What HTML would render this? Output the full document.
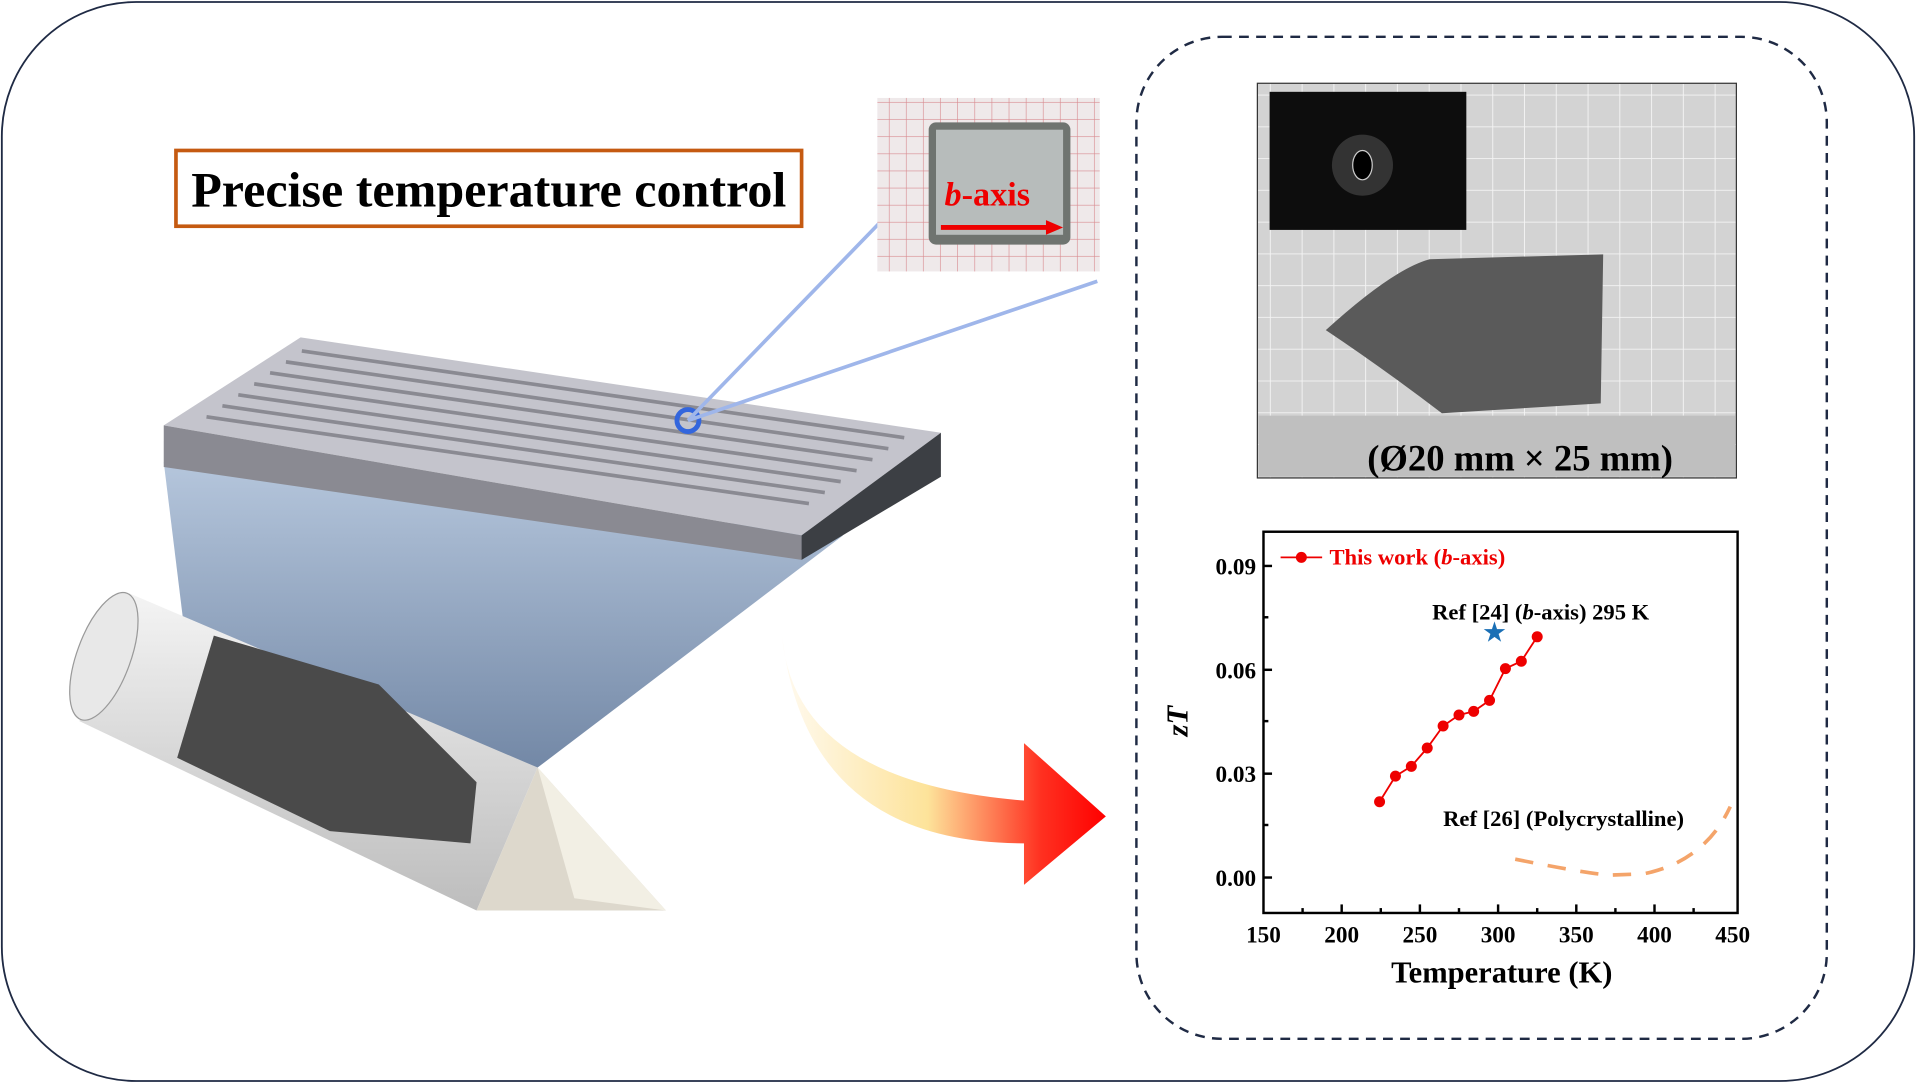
<!DOCTYPE html>
<html><head><meta charset="utf-8"><style>
html,body{margin:0;padding:0;background:#fff;width:1916px;height:1083px;overflow:hidden}
svg{display:block}
text{font-family:"Liberation Serif",serif;font-weight:bold}
</style></head><body>
<svg width="1916" height="1083" viewBox="0 0 1568 886" xmlns="http://www.w3.org/2000/svg">
<defs>
<linearGradient id="beam" x1="0" y1="0" x2="0" y2="1"><stop offset="0" stop-color="#b5c6dc"/><stop offset="1" stop-color="#7388a6"/></linearGradient>
<linearGradient id="arr" x1="0" y1="0" x2="1" y2="0"><stop offset="0" stop-color="#fffaf0"/><stop offset="0.45" stop-color="#fde39a"/><stop offset="0.8" stop-color="#ff3020"/><stop offset="1" stop-color="#ff0000"/></linearGradient>
<linearGradient id="cyl" x1="0" y1="0" x2="0" y2="1"><stop offset="0" stop-color="#f4f4f4"/><stop offset="0.5" stop-color="#d8d8d8"/><stop offset="1" stop-color="#bdbdbd"/></linearGradient>
<pattern id="grid" width="14" height="14" patternUnits="userSpaceOnUse"><rect width="14" height="14" fill="#efe9ea"/><path d="M14 0V14M0 14H14" stroke="#d88a8f" stroke-width="1"/></pattern>
<pattern id="grid2" width="26" height="26" patternUnits="userSpaceOnUse"><rect width="26" height="26" fill="#d3d3d3"/><path d="M26 0V26M0 26H26" stroke="#f4f4f4" stroke-width="1.5"/></pattern>
</defs>
<rect x="1.5" y="1.5" width="1565" height="883" rx="110" fill="#fff" stroke="#1f2a44" stroke-width="1.5"/>
<rect x="930" y="30" width="565" height="820" rx="70" fill="none" stroke="#1f2a44" stroke-width="2" stroke-dasharray="8,6"/>
<rect x="144" y="123" width="512" height="62" fill="#fff" stroke="#c55a11" stroke-width="3"/>
<text x="400" y="169" font-size="41" text-anchor="middle" fill="#000">Precise temperature control</text>
<!-- beam -->
<polygon points="134,378 690,438 440,628 160,590" fill="url(#beam)"/>
<!-- cylinder -->
<polygon points="105,485 440,628 390,745 65,590" fill="url(#cyl)"/>
<ellipse cx="85" cy="537" rx="22" ry="55" transform="rotate(20 85 537)" fill="#e8e8e8" stroke="#999"/>
<polygon points="175,520 310,560 390,640 385,690 270,680 145,620" fill="#4a4a4a"/>
<polygon points="440,628 545,745 390,745" fill="#ddd8cc"/>
<polygon points="440,628 545,745 470,735" fill="#f2efe4"/>
<!-- block -->
<polygon points="134,348 246,276 770,354 656,438" fill="#c4c4cc"/>
<polygon points="134,348 656,438 656,458 134,382" fill="#8a8a92"/>
<polygon points="656,438 770,354 770,390 656,458" fill="#3c3f44"/>
<g stroke="#8a8a92" stroke-width="3" fill="none">
<line x1="247" y1="287" x2="740" y2="358"/><line x1="234" y1="296" x2="727" y2="367"/><line x1="221" y1="305" x2="714" y2="376"/><line x1="208" y1="314" x2="701" y2="385"/><line x1="195" y1="323" x2="688" y2="394"/><line x1="182" y1="332" x2="675" y2="403"/><line x1="169" y1="341" x2="662" y2="412"/>
</g>
<circle cx="563" cy="344" r="9" fill="none" stroke="#3366dd" stroke-width="4"/>
<line x1="563" y1="344" x2="722" y2="180" stroke="#9fb6ea" stroke-width="3"/>
<line x1="563" y1="344" x2="898" y2="230" stroke="#9fb6ea" stroke-width="3"/>
<!-- sample photo -->
<rect x="718" y="80" width="182" height="142" fill="url(#grid)"/>
<rect x="760" y="100" width="116" height="100" rx="6" fill="#6f7470"/>
<rect x="766" y="106" width="104" height="86" fill="#b7bcbb"/>
<text x="773" y="168" font-size="28" fill="#e00" font-style="italic">b<tspan font-style="normal">-axis</tspan></text>
<line x1="770" y1="186" x2="858" y2="186" stroke="#e00" stroke-width="4"/>
<polygon points="870,186 856,180 856,192" fill="#e00"/>
<!-- curved arrow -->
<path d="M640,520 Q650,640 838,655 L838,608 L905,668 L838,724 L838,690 Q660,690 640,520 Z" fill="url(#arr)"/>
<!-- crystal photo -->
<rect x="1029" y="68" width="392" height="323" fill="url(#grid2)" stroke="#333"/>
<rect x="1030" y="340" width="390" height="50" fill="#bfbfbf"/>
<path d="M1085,270 Q1140,220 1170,212 L1312,208 L1310,330 L1180,338 Q1130,300 1085,270 Z" fill="#5a5a5a"/>
<rect x="1039" y="75" width="161" height="113" fill="#0d0d0d"/>
<circle cx="1115" cy="135" r="25" fill="#333"/><ellipse cx="1115" cy="135" rx="8" ry="12" fill="#000" stroke="#ccc"/>
<text x="1244" y="385" font-size="30" text-anchor="middle" fill="#000">(Ø20 mm × 25 mm)</text>
<!-- chart -->
<rect x="1034" y="435" width="388" height="312" fill="#fff" stroke="#000" stroke-width="2"/>
<g stroke="#000" stroke-width="2">
<line x1="1034" y1="463" x2="1041" y2="463"/><line x1="1034" y1="548" x2="1041" y2="548"/><line x1="1034" y1="633" x2="1041" y2="633"/><line x1="1034" y1="718" x2="1041" y2="718"/>
<line x1="1034" y1="505" x2="1038" y2="505"/><line x1="1034" y1="590" x2="1038" y2="590"/><line x1="1034" y1="675" x2="1038" y2="675"/>
<line x1="1098" y1="747" x2="1098" y2="740"/><line x1="1162" y1="747" x2="1162" y2="740"/><line x1="1226" y1="747" x2="1226" y2="740"/><line x1="1290" y1="747" x2="1290" y2="740"/><line x1="1354" y1="747" x2="1354" y2="740"/>
<line x1="1066" y1="747" x2="1066" y2="743"/><line x1="1130" y1="747" x2="1130" y2="743"/><line x1="1194" y1="747" x2="1194" y2="743"/><line x1="1258" y1="747" x2="1258" y2="743"/><line x1="1322" y1="747" x2="1322" y2="743"/><line x1="1386" y1="747" x2="1386" y2="743"/>
</g>
<g font-size="19" text-anchor="end" fill="#000"><text x="1028" y="470">0.09</text><text x="1028" y="555">0.06</text><text x="1028" y="640">0.03</text><text x="1028" y="725">0.00</text></g>
<g font-size="19" text-anchor="middle" fill="#000"><text x="1034" y="771">150</text><text x="1098" y="771">200</text><text x="1162" y="771">250</text><text x="1226" y="771">300</text><text x="1290" y="771">350</text><text x="1354" y="771">400</text><text x="1418" y="771">450</text></g>
<text x="1229" y="804" font-size="25" text-anchor="middle" fill="#000">Temperature (K)</text>
<text x="0" y="0" font-size="25" fill="#000" font-style="italic" transform="translate(972,590) rotate(-90)" text-anchor="middle">zT</text>
<line x1="1048" y1="456" x2="1082" y2="456" stroke="#e00" stroke-width="1.5"/><circle cx="1065" cy="456" r="4.5" fill="#e00"/>
<text x="1088" y="462" font-size="18.5" fill="#e00">This work (<tspan font-style="italic">b</tspan>-axis)</text>
<text x="1172" y="507" font-size="18.5" fill="#000">Ref [24] (<tspan font-style="italic">b</tspan>-axis) 295 K</text>
<text x="1181" y="676" font-size="18.5" fill="#000">Ref [26] (Polycrystalline)</text>
<polyline points="1129,656 1142,635 1155,627 1168,612 1181,594 1194,585 1206,582 1219,573 1232,547 1245,541 1258,521" fill="none" stroke="#e00" stroke-width="1.5"/>
<g fill="#e00"><circle cx="1129" cy="656" r="4.5"/><circle cx="1142" cy="635" r="4.5"/><circle cx="1155" cy="627" r="4.5"/><circle cx="1168" cy="612" r="4.5"/><circle cx="1181" cy="594" r="4.5"/><circle cx="1194" cy="585" r="4.5"/><circle cx="1206" cy="582" r="4.5"/><circle cx="1219" cy="573" r="4.5"/><circle cx="1232" cy="547" r="4.5"/><circle cx="1245" cy="541" r="4.5"/><circle cx="1258" cy="521" r="4.5"/></g>
<text x="1223" y="524" font-size="20" text-anchor="middle" fill="#1a6fb5" font-weight="normal">★</text>
<path d="M1240,703 Q1300,715 1318,716 L1345,715 Q1395,705 1416,660" fill="none" stroke="#f4a46a" stroke-width="3" stroke-dasharray="15,12"/>
</svg>
</body></html>
